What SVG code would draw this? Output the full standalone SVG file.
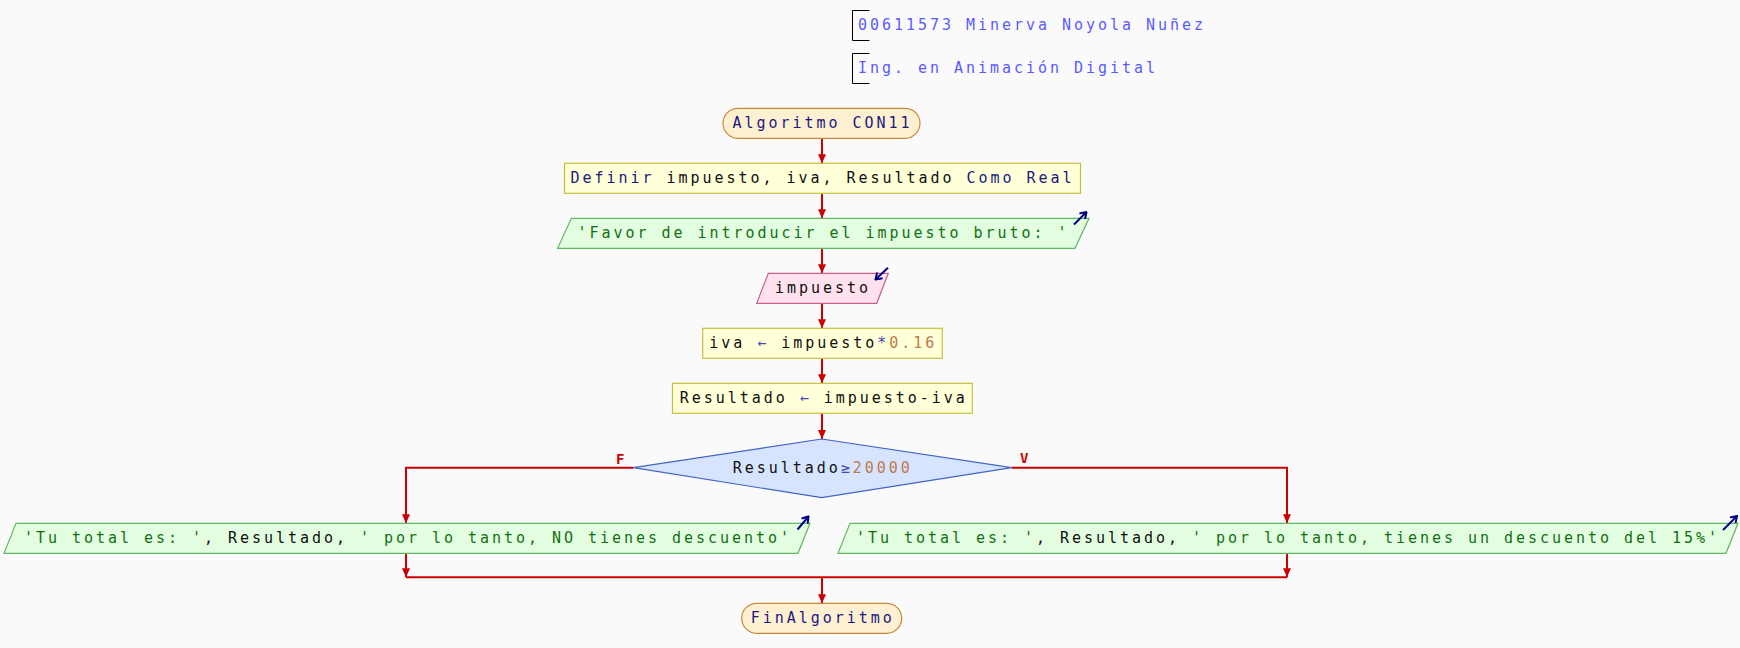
<svg xmlns="http://www.w3.org/2000/svg" width="1740" height="648" viewBox="0 0 1740 648">
<style>
text{font-family:"DejaVu Sans Mono","Liberation Mono",monospace;font-size:15px;letter-spacing:2.97px;white-space:pre}
.title{fill:#5a5aff}
.term{fill:#fff0d2;stroke:#c8883a;stroke-width:1.2}
.proc{fill:#ffffd8;stroke:#c4c040;stroke-width:1.2}
.out{fill:#e2fde0;stroke:#60b860;stroke-width:1.2}
.inp{fill:#ffe2ee;stroke:#c8608c;stroke-width:1.2}
.dec{fill:#d6e4ff;stroke:#4464c4;stroke-width:1.2}
.kw{fill:#1a1a80}
.id{fill:#101010}
.op{fill:#4848b8}
.num{fill:#c07a4a}
.str{fill:#127012}
.conn{fill:none;stroke:#cc0000;stroke-width:2}
.icon{fill:none;stroke:#000080;stroke-width:2}
.lbl{fill:#cc0000;font-weight:bold;letter-spacing:0;font-size:14px}
.br{fill:none;stroke:#000;stroke-width:1}
</style>
<defs>
<marker id="ah" markerUnits="userSpaceOnUse" markerWidth="10" markerHeight="8" refX="9" refY="4" orient="auto">
<path d="M0,0 L9,4 L0,8 Z" fill="#cc0000"/>
</marker>
<marker id="ic" markerUnits="userSpaceOnUse" markerWidth="8" markerHeight="10" refX="7" refY="5" orient="auto">
<path d="M1,1 L7,5 L1,9" fill="none" stroke="#000080" stroke-width="2"/>
</marker>
</defs>
<rect x="0" y="0" width="1740" height="648" fill="#fafafa"/>

<g id="title">
<path class="br" d="M869.5,10.5 H852.5 V40.5 H869.5"/>
<text class="title" x="858" y="30">00611573 Minerva Noyola Nuñez</text>
<path class="br" d="M869.5,53.5 H852.5 V83.5 H869.5"/>
<text class="title" x="858" y="73">Ing. en Animación Digital</text>
</g>

<g id="connectors">
<path class="conn" marker-end="url(#ah)" d="M822,138.3 V163.3"/>
<path class="conn" marker-end="url(#ah)" d="M822,193.3 V218.3"/>
<path class="conn" marker-end="url(#ah)" d="M822,248.3 V273.3"/>
<path class="conn" marker-end="url(#ah)" d="M822,303.3 V328.3"/>
<path class="conn" marker-end="url(#ah)" d="M822,358.3 V383.3"/>
<path class="conn" marker-end="url(#ah)" d="M822,413.3 V439"/>
<path class="conn" marker-end="url(#ah)" d="M633.3,467.7 H406 V523.3"/>
<path class="conn" marker-end="url(#ah)" d="M1011.7,467.7 H1287 V523.3"/>
<path class="conn" marker-end="url(#ah)" d="M406,553.3 V577.3"/>
<path class="conn" marker-end="url(#ah)" d="M1287,553.3 V577.3"/>
<path class="conn" d="M406,577.3 H1287"/>
<path class="conn" marker-end="url(#ah)" d="M822,577.3 V603.3"/>
<text class="lbl" x="616" y="464">F</text>
<text class="lbl" x="1020" y="463">V</text>
</g>

<g id="start">
<rect class="term" x="723" y="108.3" width="197" height="30" rx="15"/>
<text x="732.5" y="128.3" class="kw">Algoritmo CON11</text>
</g>

<g id="define">
<rect class="proc" x="564.5" y="163.3" width="516" height="30"/>
<text x="570.5" y="183.3"><tspan class="kw">Definir</tspan><tspan class="id"> impuesto, iva, Resultado </tspan><tspan class="kw">Como Real</tspan></text>
</g>

<g id="out1">
<polygon class="out" points="571.4,218.3 1089,218.3 1075,248.3 557.6,248.3"/>
<text x="577.5" y="238.3" class="str">'Favor de introducir el impuesto bruto: '</text>
<path class="icon" marker-end="url(#ic)" d="M1074,224.5 L1086.5,212"/>
</g>

<g id="input">
<polygon class="inp" points="768.3,273.3 888.3,273.3 876.7,303.3 756.7,303.3"/>
<text x="775" y="292.5" class="id">impuesto</text>
<path class="icon" marker-end="url(#ic)" d="M888,267.7 L875.5,279.5"/>
</g>

<g id="assign1">
<rect class="proc" x="702.7" y="328.3" width="239.6" height="30"/>
<text x="709.3" y="347.8"><tspan class="id">iva </tspan><tspan class="op">←</tspan><tspan class="id"> impuesto</tspan><tspan class="op">*</tspan><tspan class="num">0.16</tspan></text>
</g>

<g id="assign2">
<rect class="proc" x="672.5" y="383.3" width="299.8" height="30"/>
<text x="679.7" y="402.8"><tspan class="id">Resultado </tspan><tspan class="op">←</tspan><tspan class="id"> impuesto-iva</tspan></text>
</g>

<g id="decision">
<polygon class="dec" points="821.7,439 1011.7,467.7 821.7,497.7 633.3,467.7"/>
<text x="732.7" y="472.8"><tspan class="id">Resultado</tspan><tspan class="op">≥</tspan><tspan class="num">20000</tspan></text>
</g>

<g id="out_false">
<polygon class="out" points="16,523.3 810,523.3 798,553.3 4,553.3"/>
<text x="24" y="542.7"><tspan class="str">'Tu total es: '</tspan><tspan class="id">, Resultado, </tspan><tspan class="str">' por lo tanto, NO tienes descuento'</tspan></text>
<path class="icon" marker-end="url(#ic)" d="M797.5,529.5 L808.5,516.5"/>
</g>

<g id="out_true">
<polygon class="out" points="850,523.3 1738,523.3 1726,553.3 838,553.3"/>
<text x="856" y="542.7"><tspan class="str">'Tu total es: '</tspan><tspan class="id">, Resultado, </tspan><tspan class="str">' por lo tanto, tienes un descuento del 15%'</tspan></text>
<path class="icon" marker-end="url(#ic)" d="M1723,530 L1737,516"/>
</g>

<g id="end">
<rect class="term" x="741.7" y="603.3" width="160" height="30" rx="15"/>
<text x="750.7" y="623" class="kw">FinAlgoritmo</text>
</g>
</svg>
